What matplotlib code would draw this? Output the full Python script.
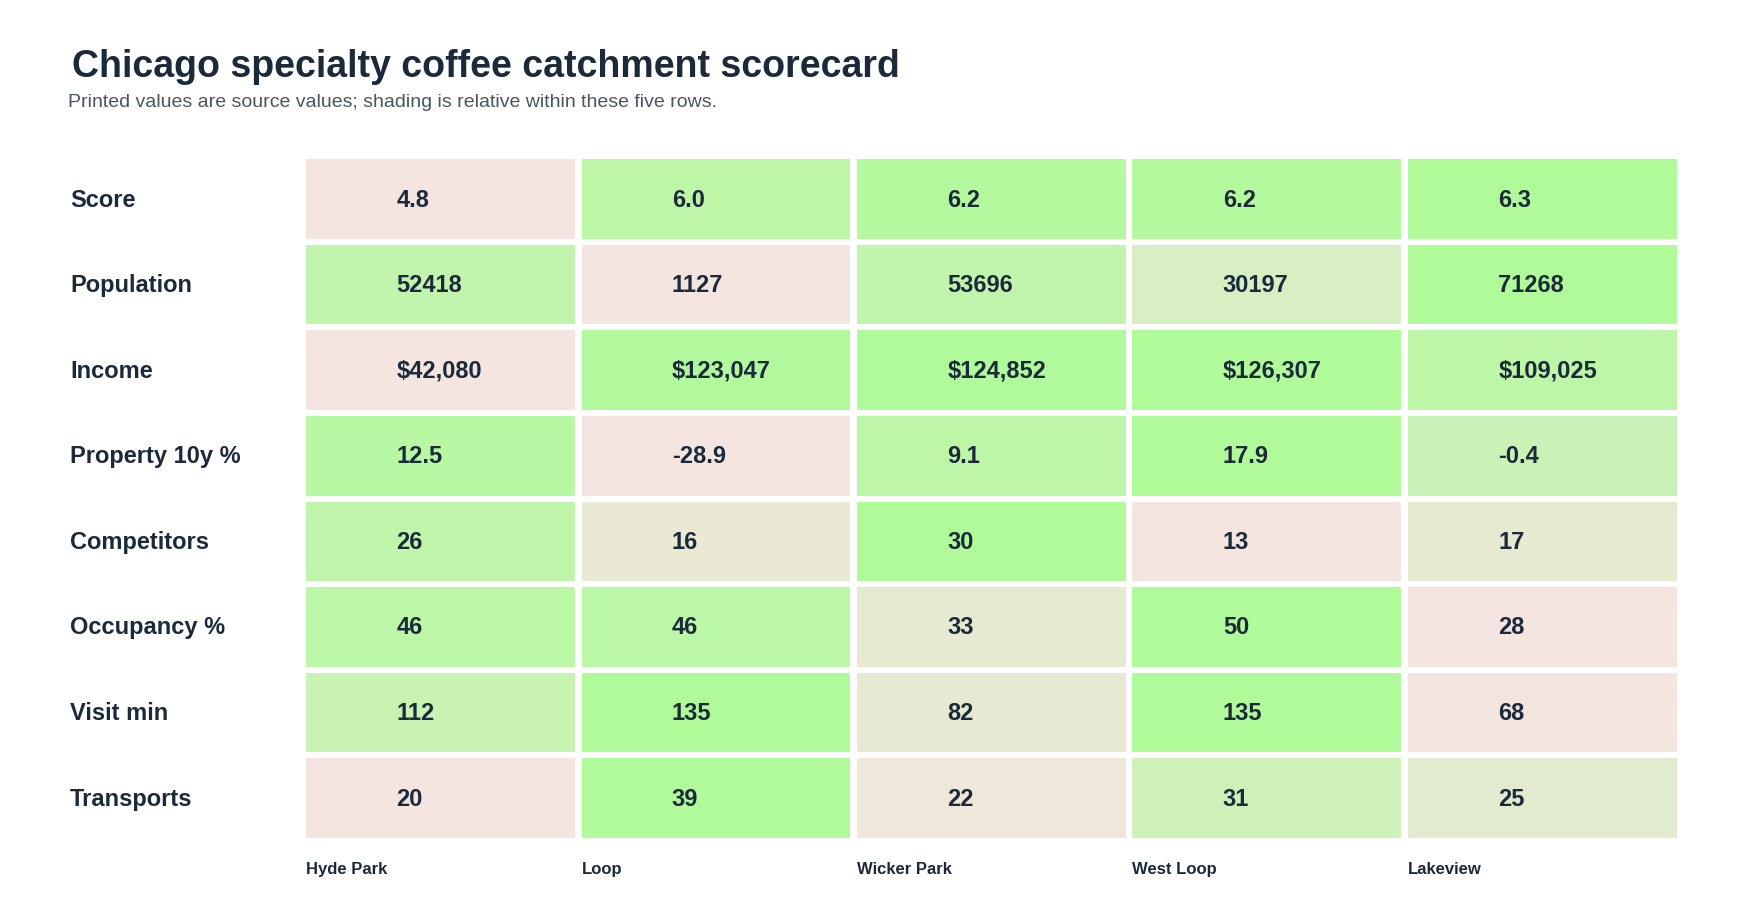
import numpy as np
import matplotlib.pyplot as plt
import matplotlib.colors as mcolors
from matplotlib.patches import Rectangle

plt.rcParams['font.family'] = ['Liberation Sans', 'DejaVu Sans']

areas = ['Hyde Park', 'Loop', 'Wicker Park', 'West Loop', 'Lakeview']
metrics = ['Score', 'Population', 'Income', 'Property 10y %', 'Competitors',
           'Occupancy %', 'Visit min', 'Transports']
score = [4.8, 6.0, 6.2, 6.2, 6.3]
population = [52418, 1127, 53696, 30197, 71268]
income = [42080, 123047, 124852, 126307, 109025]
property_10y = [12.5, -28.9, 9.1, 17.9, -0.4]
competitors = [26, 16, 30, 13, 17]
occupancy = [46, 46, 33, 50, 28]
visit_min = [112, 135, 82, 135, 68]
transports = [20, 39, 22, 31, 25]

rows = [score, population, income, property_10y, competitors, occupancy, visit_min, transports]
fmts = ['{:.1f}', '{:d}', '${:,}', '{:.1f}', '{:d}', '{:d}', '{:d}', '{:d}']

cmap = mcolors.LinearSegmentedColormap.from_list('pg', ['#f5e5e1', '#b0fa9a'])
ink = '#1b2a3a'

fig = plt.figure(figsize=(17.5, 9.2), dpi=100)
ax = fig.add_axes([0.173, 0.085, 0.787, 0.744])
ax.set_xlim(0, len(areas))
ax.set_ylim(len(metrics), 0)
ax.axis('off')

gx, gy = 0.012, 0.035
for i, (vals, fmt) in enumerate(zip(rows, fmts)):
    v = np.array(vals, dtype=float)
    norm = (v - v.min()) / (v.max() - v.min())
    for j, val in enumerate(vals):
        ax.add_patch(Rectangle((j + gx, i + gy), 1 - 2 * gx, 1 - 2 * gy,
                               facecolor=cmap(norm[j]), edgecolor='none'))
        ax.text(j + 0.34, i + 0.5, fmt.format(val), ha='left', va='center',
                fontsize=17, fontweight='bold', color=ink)
    fig.text(0.040, 0.829 - (i + 0.5) * 0.744 / len(metrics), metrics[i],
             ha='left', va='center', fontsize=17, fontweight='bold', color=ink)

for j, a in enumerate(areas):
    ax.text(j + 0.012, len(metrics) + 0.32, a, ha='left', va='center',
            fontsize=12, fontweight='bold', color=ink)

fig.text(0.041, 0.927, 'Chicago specialty coffee catchment scorecard', ha='left', va='center',
         fontsize=27, fontweight='bold', color=ink)
fig.text(0.039, 0.889, 'Printed values are source values; shading is relative within these five rows.',
         ha='left', va='center', fontsize=14, color='#4a5560')

fig.savefig('out.png', dpi=100)
